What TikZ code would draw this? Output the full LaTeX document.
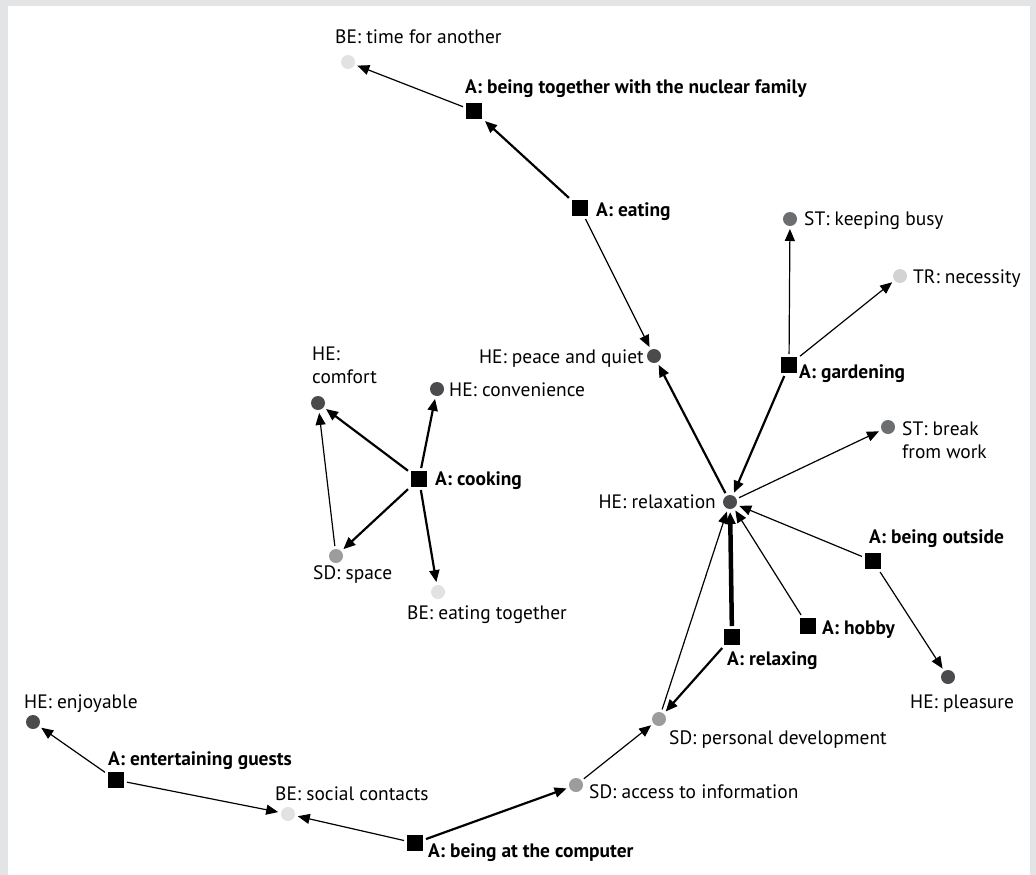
\documentclass[tikz,border=0pt]{standalone}
\usepackage{fontspec}
\setmainfont{PT Sans}
\usetikzlibrary{arrows.meta}
\definecolor{frame}{HTML}{E3E4E6}
\definecolor{cHE}{HTML}{4B4B4D}
\definecolor{cST}{HTML}{6D6E70}
\definecolor{cSD}{HTML}{9C9C9E}
\definecolor{cBE}{HTML}{E2E2E3}
\definecolor{cTR}{HTML}{D2D3D4}
\tikzset{
  act/.style={rectangle, fill=black, minimum size=16bp, inner sep=0pt, outer sep=3bp},
  dot/.style={circle, fill=#1, minimum size=14bp, inner sep=0pt, outer sep=3bp},
  lbl/.style={inner sep=0pt, anchor=base west, font=\fontsize{19.5}{23}\selectfont},
  lblr/.style={inner sep=0pt, anchor=base east, font=\fontsize{19.5}{23}\selectfont},
  albl/.style={lbl, font=\fontsize{19.5}{23}\selectfont\bfseries},
  link/.style={-{Triangle[length=12bp,width=10bp]}, line width=1.2bp},
  mid/.style={link, line width=2.2bp},
  heavy/.style={link, line width=4.5bp},
}
\begin{document}
\begin{tikzpicture}[x=1bp,y=-1bp]
\useasboundingbox (0,0) rectangle (1036,875);
\fill[frame] (0,0) rectangle (1036,875);
\fill[white] (8,6) rectangle (1030,875);

% activities
\node[act] (tog) at (474,111) {};
\node[act] (eat) at (580,208) {};
\node[act] (gar) at (789,365) {};
\node[act] (coo) at (419,479) {};
\node[act] (out) at (873,561) {};
\node[act] (hob) at (808,626) {};
\node[act] (rel) at (732,637) {};
\node[act] (ent) at (116,780) {};
\node[act] (com) at (415,843) {};

% values
\node[dot=cBE] (tfa) at (348,62) {};
\node[dot=cHE] (paq) at (654,356) {};
\node[dot=cST] (kb)  at (790,219) {};
\node[dot=cTR] (nec) at (900,276) {};
\node[dot=cST] (brk) at (888,427) {};
\node[dot=cHE] (rlx) at (730,502) {};
\node[dot=cHE] (cmf) at (318,403) {};
\node[dot=cHE] (cnv) at (437,389) {};
\node[dot=cSD] (spc) at (336,556) {};
\node[dot=cBE] (etg) at (438,592) {};
\node[dot=cHE] (pls) at (948,677) {};
\node[dot=cSD] (pdv) at (659,719) {};
\node[dot=cSD] (acc) at (576,785) {};
\node[dot=cBE] (soc) at (288,814) {};
\node[dot=cHE] (enj) at (33,722) {};

% labels
\node[lbl] (ltfa) at (335,43) {BE: time for another};
\node[albl] (ltog) at (465,93) {A: being together with the nuclear family};
\node[albl] (leat) at (596,216) {A: eating};
\node[lblr] (lpaq) at (644,363) {HE: peace and quiet};
\node[lbl] (lcmf1) at (312,360) {HE:};
\node[lbl] (lcmf2) at (312,383) {comfort};
\node[lbl] (lcnv) at (449,396) {HE: convenience};
\node[albl] (lcoo) at (435,485) {A: cooking};
\node[lbl] (lspc) at (313,579) {SD: space};
\node[lbl] (letg) at (407,619) {BE: eating together};
\node[lbl] (lkb) at (804,225) {ST: keeping busy};
\node[lbl] (lnec) at (913,283) {TR: necessity};
\node[albl] (lgar) at (799,378) {A: gardening};
\node[lbl] (lbrk1) at (902,435) {ST: break};
\node[lbl] (lbrk2) at (902,458) {from work};
\node[lblr] (lrlx) at (716,508) {HE: relaxation};
\node[albl] (lout) at (869,543) {A: being outside};
\node[albl] (lhob) at (822,634) {A: hobby};
\node[albl] (lrel) at (727,665) {A: relaxing};
\node[lbl] (lpls) at (910,708) {HE: pleasure};
\node[lbl] (lpdv) at (669,744) {SD: personal development};
\node[lbl] (lacc) at (589,798) {SD: access to information};
\node[lbl] (lenj) at (24,708) {HE: enjoyable};
\node[albl] (lent) at (108,765) {A: entertaining guests};
\node[lbl] (lsoc) at (275,800) {BE: social contacts};
\node[albl] (lcom) at (428,857) {A: being at the computer};

% links
\draw[link] (tog) -- (tfa);
\draw[mid] (eat) -- (tog);
\draw[link] (eat) -- (paq);
\draw[mid] (rlx) -- (paq);
\draw[link] (gar) -- (kb);
\draw[link] (gar) -- (nec);
\draw[mid] (gar) -- (rlx);
\draw[link] (rlx) -- (brk);
\draw[link] (out) -- (rlx);
\draw[link] (out) -- (pls);
\draw[link] (hob) -- (rlx);
\draw[heavy] (rel) -- (rlx);
\draw[mid] (rel) -- (pdv);
\draw[link] (pdv) -- (rlx);
\draw[link] (acc) -- (pdv);
\draw[mid] (com) -- (acc);
\draw[link] (com) -- (soc);
\draw[link] (ent) -- (soc);
\draw[link] (ent) -- (enj);
\draw[mid] (coo) -- (cmf);
\draw[mid] (coo) -- (cnv);
\draw[mid] (coo) -- (spc);
\draw[mid] (coo) -- (etg);
\draw[link] (spc) -- (cmf);
\end{tikzpicture}
\end{document}
